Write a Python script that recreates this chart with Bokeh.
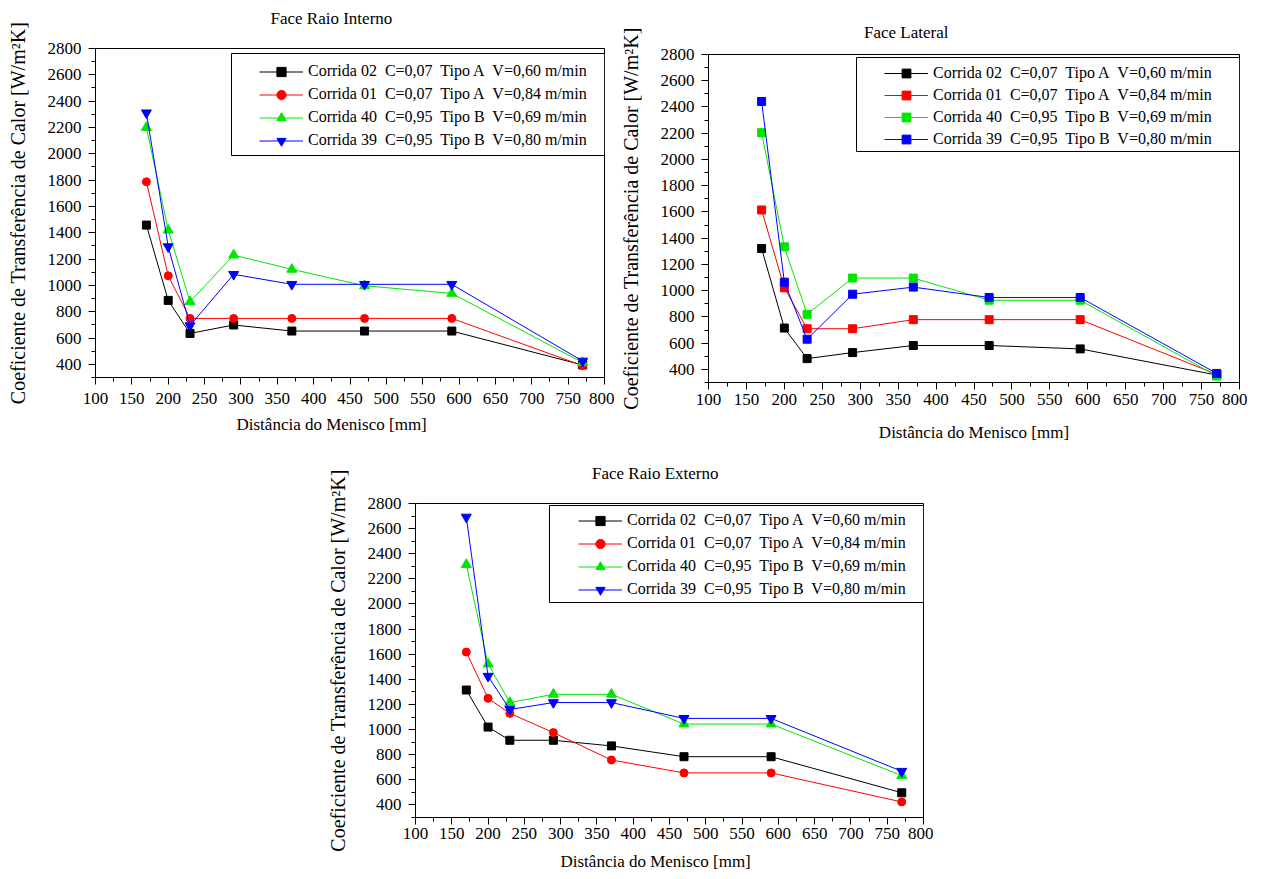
from bokeh.plotting import figure
from bokeh.models import (Legend, LegendItem, BoxAnnotation, Title,
                          SingleIntervalTicker, Range1d, Spacer)
from bokeh.layouts import row, column
from bokeh.embed import file_html
from bokeh.resources import INLINE

# ---------------- data ----------------
distance_mm = [170, 200, 230, 290, 370, 470, 590, 770]

series_labels = [
    "Corrida 02\u00a0 C=0,07\u00a0 Tipo A\u00a0 V=0,60 m/min",
    "Corrida 01\u00a0 C=0,07\u00a0 Tipo A\u00a0 V=0,84 m/min",
    "Corrida 40\u00a0 C=0,95\u00a0 Tipo B\u00a0 V=0,69 m/min",
    "Corrida 39\u00a0 C=0,95\u00a0 Tipo B\u00a0 V=0,80 m/min",
]

interno_c02 = [1458, 886, 635, 699, 653, 653, 653, 395]
interno_c01 = [1787, 1073, 749, 749, 749, 749, 749, 390]
interno_c40 = [2200, 1420, 876, 1230, 1122, 997, 939, 413]
interno_c39 = [2311, 1294, 694, 1084, 1008, 1008, 1008, 425]

lateral_c02 = [1321, 715, 482, 528, 582, 582, 556, 357]
lateral_c01 = [1615, 1022, 710, 710, 779, 779, 779, 362]
lateral_c40 = [2204, 1334, 820, 1096, 1096, 927, 927, 349]
lateral_c39 = [2442, 1065, 630, 973, 1027, 948, 948, 369]

externo_c02 = [1315, 1020, 915, 915, 870, 784, 784, 497]
externo_c01 = [1617, 1249, 1129, 976, 758, 655, 655, 424]
externo_c40 = [2314, 1522, 1215, 1281, 1281, 1044, 1044, 634]
externo_c39 = [2692, 1425, 1160, 1215, 1215, 1089, 1089, 668]

titles = ["Face Raio Interno", "Face Lateral", "Face Raio Externo"]
x_label = "Distância do Menisco [mm]"
y_label = "Coeficiente de Transferência de Calor [W/m²K]"

# ---------------- style ----------------
colors = ["#000000", "#ff0000", "#00e600", "#0000ff"]
markers_mixed = ["square", "circle", "triangle", "inverted_triangle"]
markers_square = ["square"] * 4
marker_sizes_mixed = [8, 8, 10, 10]
marker_sizes_square = [8, 8, 8, 8]
FONT = "Liberation Serif"
X_RANGE = (100, 800)
Y_RANGE = (300, 2800)

# approximate text widths (px) at 17px Liberation Serif, used to centre texts
TITLE_W = [122, 85, 127]
XLAB_W = 190

# layout geometry in page pixels
# canvas = (left, top, width, height); frame = (left, top, width, height)
ROW1_H = 444
charts = [
    dict(title=titles[0], title_extra_line=True,
         data=[interno_c02, interno_c01, interno_c40, interno_c39],
         markers=markers_mixed, msizes=marker_sizes_mixed,
         canvas=(0, 0, 614, ROW1_H), frame=(95, 48, 509, 329),
         title_cx=331, title_s=0, xlab_mode="title", xlab_cx=331, xlab_s=12, tick_st=8,
         box=(231, 53, 604, 155), glyph_left=259, first_row=71, row_h=23),
    dict(title=titles[1], title_extra_line=False,
         data=[lateral_c02, lateral_c01, lateral_c40, lateral_c39],
         markers=markers_square, msizes=marker_sizes_square,
         canvas=(614, 6, 633, ROW1_H - 6), frame=(708, 54, 531, 328),
         title_cx=906, title_s=22, xlab_mode="axis", xlab_cx=972, xlab_s=15, tick_st=4,
         box=(856, 57, 1239, 151), glyph_left=884, first_row=73, row_h=22),
    dict(title=titles[2], title_extra_line=False,
         data=[externo_c02, externo_c01, externo_c40, externo_c39],
         markers=markers_mixed, msizes=marker_sizes_mixed,
         canvas=(320, ROW1_H, 613, 879 - ROW1_H), frame=(415, 503, 508, 314),
         title_cx=655, title_s=38, xlab_mode="title", xlab_cx=655, xlab_s=17, tick_st=3,
         box=(549, 505, 923, 602), glyph_left=578, first_row=520, row_h=23),
]


def make_chart(c, i):
    cx, cy, W, H = c["canvas"]
    fl, ft, fw, fh = c["frame"]
    p = figure(width=W, height=H,
               x_range=Range1d(*X_RANGE), y_range=Range1d(*Y_RANGE),
               output_backend="svg", toolbar_location=None,
               min_border_left=fl - cx, min_border_top=ft - cy,
               min_border_right=cx + W - fl - fw,
               min_border_bottom=cy + H - ft - fh)
    p.background_fill_color = "white"
    p.border_fill_color = "white"
    p.outline_line_color = "black"
    p.outline_line_width = 1
    p.xgrid.visible = False
    p.ygrid.visible = False

    p.xaxis.ticker = SingleIntervalTicker(interval=50, num_minor_ticks=2)
    p.yaxis.ticker = SingleIntervalTicker(interval=200, num_minor_ticks=2)
    for ax in (p.xaxis[0], p.yaxis[0]):
        ax.axis_line_color = "black"
        ax.major_tick_line_color = "black"
        ax.minor_tick_line_color = "black"
        ax.major_tick_in = 0
        ax.major_tick_out = 7
        ax.minor_tick_in = 0
        ax.minor_tick_out = 4
        ax.major_label_text_font = FONT
        ax.major_label_text_font_size = "17px"
        ax.major_label_text_color = "black"
        ax.axis_label_text_font = FONT
        ax.axis_label_text_font_style = "normal"
        ax.axis_label_text_color = "black"
    p.xaxis.major_label_standoff = c["tick_st"]
    p.yaxis.major_label_standoff = 7
    p.yaxis.axis_label = y_label
    p.yaxis.axis_label_text_font_size = "20px"
    p.yaxis.axis_label_standoff = 16

    def to_data(px, py):
        x = X_RANGE[0] + (px - fl) / fw * (X_RANGE[1] - X_RANGE[0])
        y = Y_RANGE[1] - (py - ft) / fh * (Y_RANGE[1] - Y_RANGE[0])
        return x, y

    # legend frame
    bx0, by0, bx1, by1 = c["box"]
    l, t = to_data(bx0, by0)
    r, b = to_data(bx1, by1)
    p.add_layout(BoxAnnotation(left=l, right=r, top=t, bottom=b,
                               fill_color="white", fill_alpha=1.0,
                               line_color="black", line_width=1, line_alpha=1.0))

    items = []
    for vals, col, mk, ms, lab in zip(c["data"], colors, c["markers"], c["msizes"], series_labels):
        lr = p.line(distance_mm, vals, line_color=col, line_width=1)
        sr = p.scatter(distance_mm, vals, marker=mk, size=ms,
                       fill_color=col, line_color=col)
        items.append(LegendItem(label=lab, renderers=[lr, sr]))

    rh = c["row_h"]
    leg_bottom = c["first_row"] - rh / 2 + 4 * rh
    legend = Legend(items=items,
                    location=(c["glyph_left"] - fl, ft + fh - leg_bottom),
                    padding=0, spacing=0, glyph_width=44, glyph_height=rh,
                    label_height=rh, label_standoff=5,
                    label_text_font=FONT, label_text_font_size="16px",
                    label_text_color="black",
                    border_line_alpha=0, background_fill_alpha=0)
    p.add_layout(legend)

    # chart title (above); an empty second line lifts it towards the canvas top
    title_text = c["title"] + ("\n" if c["title_extra_line"] else "")
    p.add_layout(Title(text=title_text, align="left",
                       offset=c["title_cx"] - TITLE_W[i] / 2 - fl,
                       vertical_align="top", standoff=c["title_s"],
                       text_font=FONT, text_font_size="17px",
                       text_font_style="normal", text_color="black"), "above")
    # x-axis label
    if c["xlab_mode"] == "axis":
        p.xaxis.axis_label = x_label
        p.xaxis.axis_label_text_font_size = "17px"
        p.xaxis.axis_label_standoff = c["xlab_s"]
    else:
        p.add_layout(Title(text=x_label, align="left",
                           offset=c["xlab_cx"] - XLAB_W / 2 - fl,
                           vertical_align="bottom", standoff=c["xlab_s"],
                           text_font=FONT, text_font_size="17px",
                           text_font_style="normal", text_color="black"), "below")
    return p


p1, p2, p3 = [make_chart(c, i) for i, c in enumerate(charts)]
top_row = row(p1, column(Spacer(width=charts[1]["canvas"][2],
                                height=charts[1]["canvas"][1]), p2))
bottom_row = row(Spacer(width=charts[2]["canvas"][0], height=10), p3)
layout = column(top_row, bottom_row)

open("out.html", "w").write(file_html(layout, INLINE))
